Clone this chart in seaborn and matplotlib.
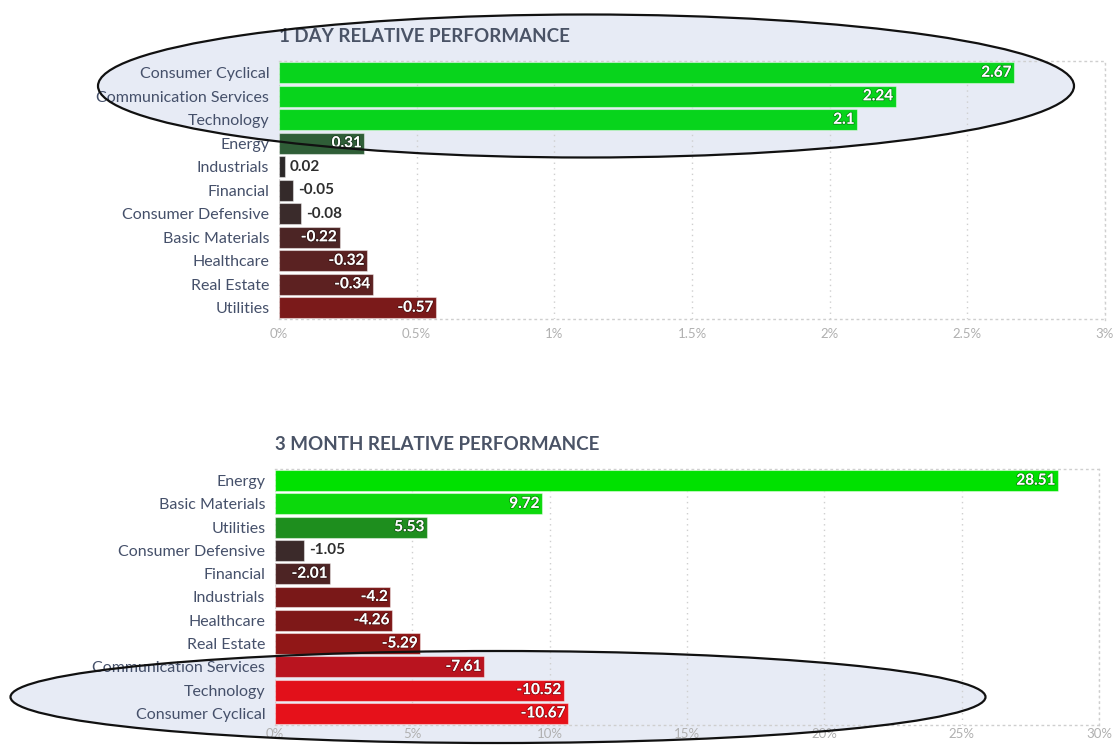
import matplotlib
matplotlib.use("Agg")
import matplotlib.pyplot as plt
import matplotlib.patheffects as pe
from matplotlib.patches import Ellipse
from matplotlib.ticker import FuncFormatter, MultipleLocator
import seaborn as sns
import pandas as pd
import numpy as np

# ---------------- data ----------------
day_sectors = ["Consumer Cyclical", "Communication Services", "Technology", "Energy",
               "Industrials", "Financial", "Consumer Defensive", "Basic Materials",
               "Healthcare", "Real Estate", "Utilities"]
day_values = [2.67, 2.24, 2.1, 0.31, 0.02, -0.05, -0.08, -0.22, -0.32, -0.34, -0.57]
day_colors = ["#08d41c", "#08d41c", "#08d41c", "#2f5e37", "#2c2929", "#342a2a",
              "#3a2b2b", "#4c2525", "#5a2222", "#5d2121", "#7b1a1a"]

month_sectors = ["Energy", "Basic Materials", "Utilities", "Consumer Defensive",
                 "Financial", "Industrials", "Healthcare", "Real Estate",
                 "Communication Services", "Technology", "Consumer Cyclical"]
month_values = [28.51, 9.72, 5.53, -1.05, -2.01, -4.2, -4.26, -5.29, -7.61, -10.52, -10.67]
month_colors = ["#00e100", "#0cd90c", "#1e8e1e", "#3b2a2a", "#4d2424", "#7a1818",
                "#7e1818", "#911717", "#b9141f", "#e2101a", "#e6111a"]

day_title = "1 DAY RELATIVE PERFORMANCE"
month_title = "3 MONTH RELATIVE PERFORMANCE"

# ---------------- style ----------------
sns.set_theme(style="white")
plt.rcParams["font.family"] = ["Lato", "DejaVu Sans"]

W, H = 1117, 745
fig = plt.figure(figsize=(W / 100, H / 100), dpi=100)
fig.patch.set_facecolor("white")

LABEL_COLOR = "#45506a"
TICK_COLOR = "#b0b0b0"
GRID_COLOR = "#cfcfcf"


def fx(px):
    return px / W


def fy(py):
    return 1 - py / H


def draw_panel(rect, sectors, values, colors, xmax, step, title, xpad):
    ax = fig.add_axes(rect)
    ax.set_facecolor("none")
    df = pd.DataFrame({"sector": sectors, "value": values,
                       "mag": np.abs(values)})
    sns.barplot(data=df, x="mag", y="sector", hue="sector", palette=colors,
                orient="h", width=0.9, legend=False, ax=ax, saturation=1,
                edgecolor=(1, 1, 1, 0.45), linewidth=0.8, zorder=3)
    ax.set_xlim(0, xmax)
    ax.set_ylim(len(sectors) - 0.5, -0.5)
    ax.xaxis.set_major_locator(MultipleLocator(step))
    ax.xaxis.set_major_formatter(FuncFormatter(lambda v, p: f"{v:g}%"))
    ax.set_xlabel("")
    ax.set_ylabel("")
    ax.tick_params(axis="x", length=0, pad=xpad, labelsize=9.5, labelcolor=TICK_COLOR)
    ax.tick_params(axis="y", length=0, pad=7, labelsize=11.5, labelcolor=LABEL_COLOR)
    ax.grid(axis="x", color=GRID_COLOR, linestyle=(0, (1, 3)), linewidth=1, zorder=1)
    ax.grid(axis="y", visible=False)
    for s in ["top", "right", "bottom"]:
        ax.spines[s].set_visible(True)
        ax.spines[s].set_color(GRID_COLOR)
        ax.spines[s].set_linestyle((0, (1, 3)))
        ax.spines[s].set_linewidth(1)
    ax.spines["left"].set_visible(False)
    for i, v in enumerate(values):
        m = abs(v)
        txt = f"{v:g}"
        if m / xmax < 0.05:
            ax.text(m + xmax * 0.006, i, txt, ha="left", va="center",
                    fontsize=11, fontweight="bold", color="#2e2e2e", zorder=5)
        else:
            ax.text(m - xmax * 0.003, i, txt, ha="right", va="center",
                    fontsize=11, fontweight="bold", color="white", zorder=5,
                    path_effects=[pe.withStroke(linewidth=1.2, foreground=(0, 0, 0, 0.35))])
    ax.set_title(title, loc="left", pad=14, fontsize=13.5, fontweight="bold",
                 color="#4a5366")
    return ax


ax1 = draw_panel([fx(279), fy(319.5), fx(1105) - fx(279), fy(61) - fy(319.5)],
                 day_sectors, day_values, day_colors, 3, 0.5, day_title, 6)
ax2 = draw_panel([fx(275), fy(725), fx(1099) - fx(275), fy(469) - fy(725)],
                 month_sectors, month_values, month_colors, 30, 5, month_title, 2)

# ---------------- annotation ellipses ----------------
for (cx, cy, w, h) in [(586, 86, 976, 143), (498, 697, 975, 92)]:
    fill = Ellipse((fx(cx), fy(cy)), w / W, h / H, transform=fig.transFigure,
                   facecolor="#e7ebf5", edgecolor="none", zorder=-1)
    fig.patches.append(fill)
    edge = Ellipse((fx(cx), fy(cy)), w / W, h / H, transform=fig.transFigure,
                   facecolor="none", edgecolor="#111111", linewidth=1.6, zorder=10)
    fig.patches.append(edge)

fig.savefig("out.png", dpi=100, facecolor="white")
